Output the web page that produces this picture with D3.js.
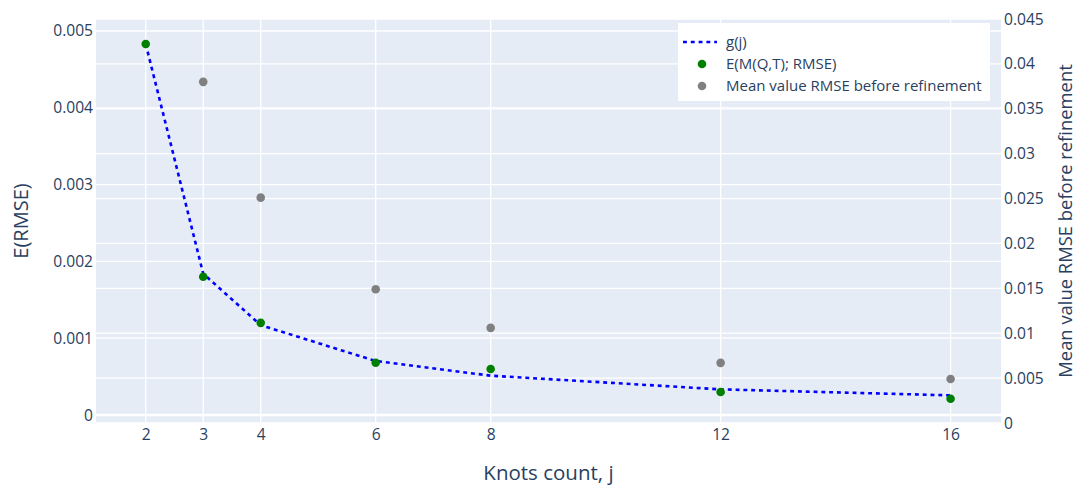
<head>
    <meta charset="utf-8">
    <style> body { margin: 0; background: #fff; } </style>
    <script src="https://d3js.org/d3.v7.min.js"></script>
</head>
<body>
<div id="chart"></div>
<script>

// data
var knots = [2, 3, 4, 6, 8, 12, 16];
var gValues = [0.00483, 0.00184, 0.00117, 0.000703, 0.000512, 0.000334, 0.000256];
var rmseRefined = [0.00483, 0.00180, 0.00120, 0.000681, 0.000599, 0.000299, 0.000212];
var knotsBefore = [3, 4, 6, 8, 12, 16];
var rmseBefore = [0.0380, 0.0251, 0.0149, 0.0106, 0.0067, 0.0049];
var leftTicks = [0, 0.001, 0.002, 0.003, 0.004, 0.005];
var rightTicks = [0, 0.005, 0.01, 0.015, 0.02, 0.025, 0.03, 0.035, 0.04, 0.045];

var W = 1079, H = 486;
var margin = {top: 19, right: 78, bottom: 63, left: 96};
var width = W - margin.left - margin.right,
    height = H - margin.top - margin.bottom;

var font = "'Open Sans', sans-serif";
var ink = "#2a3f5f";

var svg = d3.select("#chart").append("svg")
    .attr("width", W)
    .attr("height", H);

var focus = svg.append("g")
    .attr("transform", "translate(" + margin.left + "," + margin.top + ")");

focus.append("rect")
    .attr("width", width)
    .attr("height", height)
    .attr("fill", "#e5ecf6");

var x = d3.scaleLinear().domain([1.135, 16.877]).range([0, width]);
var y = d3.scaleLinear().domain([-0.000104, 0.005156]).range([height, 0]);
var y2 = d3.scaleLinear().domain([0, 0.045]).range([height, 0]);

// grid
var grid = focus.append("g").attr("stroke", "#fff").attr("stroke-width", 1.3);
grid.selectAll(".gx").data(knots).enter().append("line")
    .attr("x1", d => x(d)).attr("x2", d => x(d))
    .attr("y1", 0).attr("y2", height);
grid.selectAll(".gy2").data(rightTicks).enter().append("line")
    .attr("x1", 0).attr("x2", width)
    .attr("y1", d => y2(d)).attr("y2", d => y2(d));
grid.selectAll(".gy").data(leftTicks).enter().append("line")
    .attr("x1", 0).attr("x2", width)
    .attr("y1", d => y(d)).attr("y2", d => y(d))
    .attr("stroke-width", d => d == 0 ? 2.6 : 1.3);

// axes
function styleAxis(g) {
    g.select(".domain").remove();
    g.selectAll("text")
        .attr("fill", ink)
        .style("font-family", font)
        .style("font-size", "15.6px");
}

focus.append("g")
    .attr("transform", "translate(0," + height + ")")
    .call(d3.axisBottom(x).tickValues(knots).tickSize(0).tickPadding(6))
    .call(styleAxis);

focus.append("g")
    .call(d3.axisLeft(y).tickValues(leftTicks).tickSize(0).tickPadding(3)
        .tickFormat(d => d == 0 ? "0" : d3.format(".3f")(d)))
    .call(styleAxis);

focus.append("g")
    .attr("transform", "translate(" + width + ",0)")
    .call(d3.axisRight(y2).tickValues(rightTicks).tickSize(0).tickPadding(3)
        .tickFormat(d => d == 0 ? "0" : d3.format("~g")(d)))
    .call(styleAxis);

// series
focus.append("path")
    .datum(knots.map((k, i) => [k, gValues[i]]))
    .attr("fill", "none")
    .attr("stroke", "blue")
    .attr("stroke-width", 2.6)
    .attr("stroke-dasharray", "3.9,3.9")
    .attr("d", d3.line().x(d => x(d[0])).y(d => y(d[1])));

focus.selectAll(".green").data(knots).enter().append("circle")
    .attr("cx", d => x(d))
    .attr("cy", (d, i) => y(rmseRefined[i]))
    .attr("r", 4.3)
    .attr("fill", "green");

focus.selectAll(".grey").data(knotsBefore).enter().append("circle")
    .attr("cx", d => x(d))
    .attr("cy", (d, i) => y2(rmseBefore[i]))
    .attr("r", 4.3)
    .attr("fill", "grey");

// titles
function title(t, size) {
    return t.attr("fill", ink)
        .attr("text-anchor", "middle")
        .style("font-family", font)
        .style("font-size", size);
}

svg.append("text")
    .attr("x", margin.left + width / 2)
    .attr("y", 480)
    .call(title, "20.5px")
    .text("Knots count, j");

svg.append("text")
    .attr("transform", "translate(28," + (margin.top + height / 2) + ") rotate(-90)")
    .call(title, "20px")
    .text("E(RMSE)");

svg.append("text")
    .attr("transform", "translate(1072," + (margin.top + height / 2) + ") rotate(-90)")
    .call(title, "18.4px")
    .text("Mean value RMSE before refinement");

// legend
var legend = svg.append("g").attr("transform", "translate(678,23)");
legend.append("rect")
    .attr("width", 312)
    .attr("height", 78)
    .attr("fill", "#fff");

var items = [
    {name: "g(j)", kind: "line", col: "blue"},
    {name: "E(M(Q,T); RMSE)", kind: "dot", col: "green"},
    {name: "Mean value RMSE before refinement", kind: "dot", col: "grey"}
];

items.forEach(function(it, i) {
    var row = legend.append("g").attr("transform", "translate(0," + (19 + i * 22) + ")");
    if (it.kind == "line") {
        row.append("line")
            .attr("x1", 5).attr("x2", 39)
            .attr("stroke", it.col)
            .attr("stroke-width", 2.6)
            .attr("stroke-dasharray", "3.9,3.9");
    } else {
        row.append("circle").attr("cx", 24).attr("r", 4.3).attr("fill", it.col);
    }
    row.append("text")
        .attr("x", 48)
        .attr("dy", "0.35em")
        .attr("fill", ink)
        .style("font-family", font)
        .style("font-size", "15px")
        .text(it.name);
});

</script>
</body>
